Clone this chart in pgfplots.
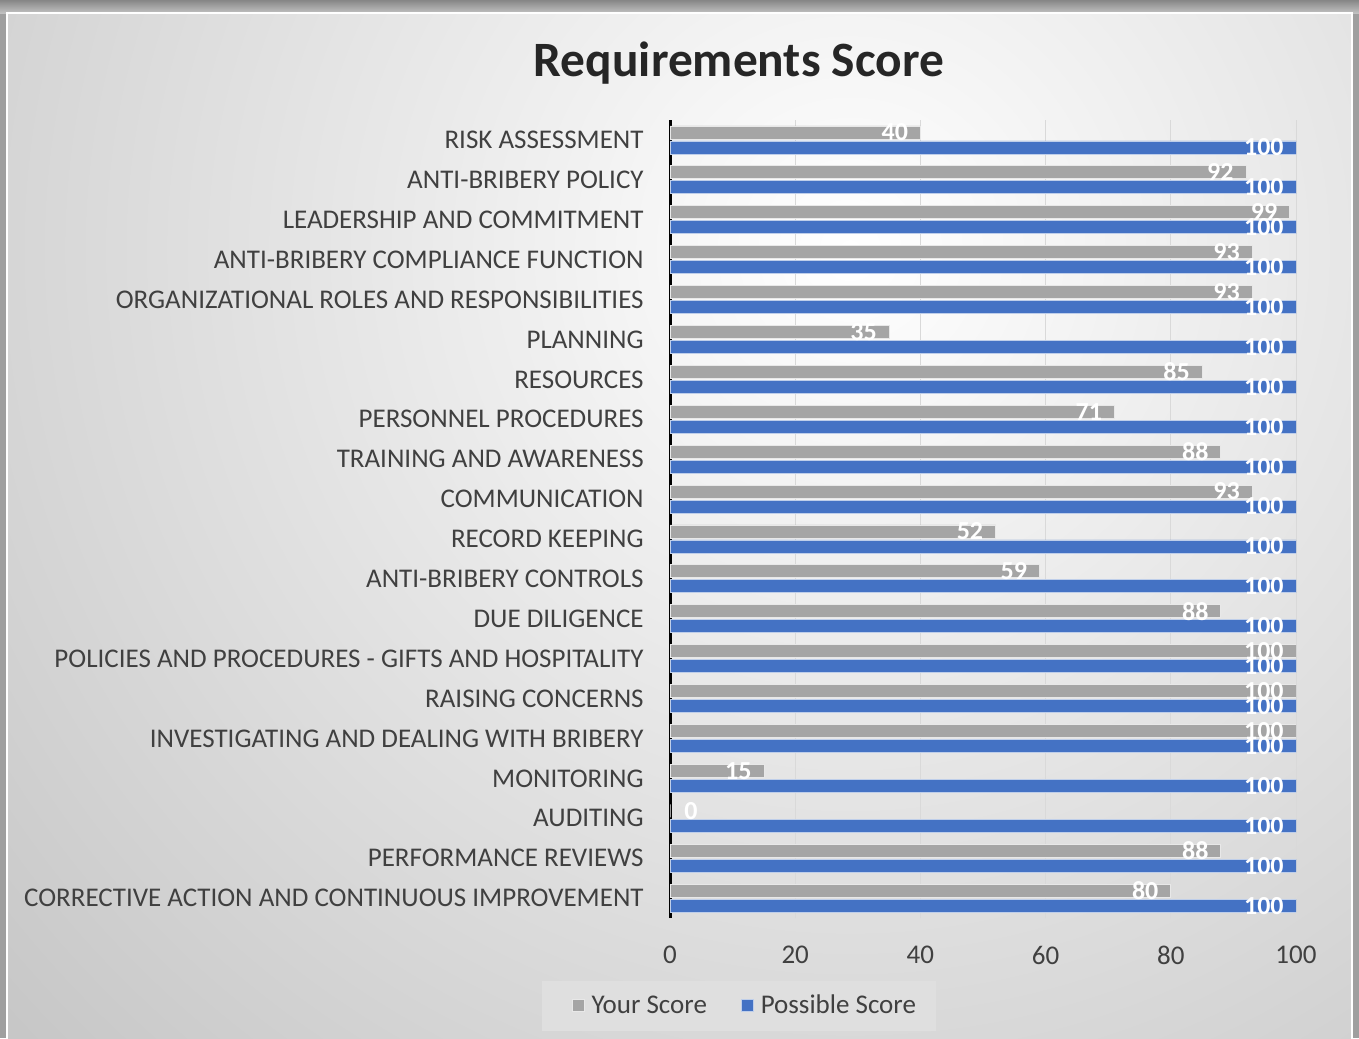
\documentclass[border=0pt]{standalone}
\usepackage{pgfplots}
\pgfplotsset{compat=1.18}
\usepackage{fontspec}
\setmainfont{Carlito}
\definecolor{ygray}{HTML}{A5A5A5}
\definecolor{pblue}{HTML}{4472C4}
\definecolor{txt}{HTML}{404040}
\begin{document}
\begin{tikzpicture}[x=0.5pt,y=-0.5pt]
\useasboundingbox (0,0) rectangle (1359,1038);
\fill[gray!75] (0,0) rectangle (1359,1038);
\shade[top color=gray!95, bottom color=gray!45] (0,0) rectangle (1359,14);
\begin{scope}
\clip (7,13) rectangle (1352,1038);
\fill[gray!50] (7,13) rectangle (1352,1038);
\shade[inner color=white, outer color=gray!50] (850,250) circle (1300);
\end{scope}
\draw[white, line width=1pt] (7,13) rectangle (1352,1040);
\node[font=\fontsize{24.7}{28}\selectfont\bfseries, text=black!85] at (739,63) {Requirements Score};
\coordinate (AO) at (670,918);
\begin{axis}[at={(AO)}, anchor=south west, scale only axis,
  width=313pt, height=399pt,
  xmin=0, xmax=100, ymin=-0.5, ymax=19.5,
  xbar, bar width=6.5pt,
  /pgf/number format/assume math mode=true,
  axis lines=left, axis line style={-},
  x axis line style={draw=none},
  y axis line style={line width=1.5pt, black},
  major tick length=0pt,
  xtick={0,20,40,60,80,100},
  xmajorgrids, grid style={gray!30, line width=0.5pt},
  ytick={0,...,19},
  yticklabels={CORRECTIVE ACTION AND CONTINUOUS IMPROVEMENT, PERFORMANCE REVIEWS, AUDITING, MONITORING, INVESTIGATING AND DEALING WITH BRIBERY, RAISING CONCERNS, POLICIES AND PROCEDURES - GIFTS AND HOSPITALITY, DUE DILIGENCE, ANTI-BRIBERY CONTROLS, RECORD KEEPING, COMMUNICATION, TRAINING AND AWARENESS, PERSONNEL PROCEDURES, RESOURCES, PLANNING, ORGANIZATIONAL ROLES AND RESPONSIBILITIES, ANTI-BRIBERY COMPLIANCE FUNCTION, LEADERSHIP AND COMMITMENT, ANTI-BRIBERY POLICY, RISK ASSESSMENT},
  yticklabel style={font=\fontsize{13.5}{15}\selectfont, text=txt, anchor=east, inner sep=0pt, xshift=-13pt},
  xticklabel style={font=\fontsize{13.5}{15}\selectfont, text=txt, anchor=north, inner sep=0pt, yshift=-14pt},
  legend style={at={(0.110,-0.110)}, anchor=center, legend columns=2, fill=gray!25, draw=none,
    font=\fontsize{13.5}{15}\selectfont, text=txt, inner xsep=8pt, inner ysep=5pt,
    /tikz/every odd column/.append style={column sep=1.5pt},
    /tikz/every even column/.append style={column sep=8pt}},
  legend image code/.code={\path (-7pt,0pt); \fill[#1] (0pt,-3pt) rectangle (6pt,3pt);},
]
\addplot[fill=ygray, draw=white!75!ygray, line width=0.4pt, bar shift=3.75pt,
  nodes near coords, point meta=explicit symbolic,
  every node near coord/.append style={anchor=east, font=\fontsize{13}{13}\selectfont\bfseries, text=white, inner sep=2pt, xshift=-4pt}]
  coordinates {(40,19) [40] (92,18) [92] (99,17) [99] (93,16) [93] (93,15) [93] (35,14) [35] (85,13) [85] (71,12) [71] (88,11) [88] (93,10) [93] (52,9) [52] (59,8) [59] (88,7) [88] (100,6) [100] (100,5) [100] (100,4) [100] (15,3) [15] (0,2) [] (88,1) [88] (80,0) [80]};
\addplot[fill=pblue, draw=white!65!pblue, line width=0.4pt, bar shift=-3.75pt,
  nodes near coords, point meta=explicit symbolic,
  every node near coord/.append style={anchor=east, font=\fontsize{13}{13}\selectfont\bfseries, text=white, inner sep=2pt, xshift=-4pt}]
  coordinates {(100,19) [100] (100,18) [100] (100,17) [100] (100,16) [100] (100,15) [100] (100,14) [100] (100,13) [100] (100,12) [100] (100,11) [100] (100,10) [100] (100,9) [100] (100,8) [100] (100,7) [100] (100,6) [100] (100,5) [100] (100,4) [100] (100,3) [100] (100,2) [100] (100,1) [100] (100,0) [100]};
\addplot[forget plot, draw=none, fill=none, bar shift=3.75pt,
  nodes near coords, point meta=explicit symbolic,
  every node near coord/.append style={anchor=west, font=\fontsize{13}{13}\selectfont\bfseries, text=white, inner sep=2pt, xshift=5pt}]
  coordinates {(0,2) [0]};
\legend{Your Score, Possible Score}
\end{axis}
\end{tikzpicture}
\end{document}
